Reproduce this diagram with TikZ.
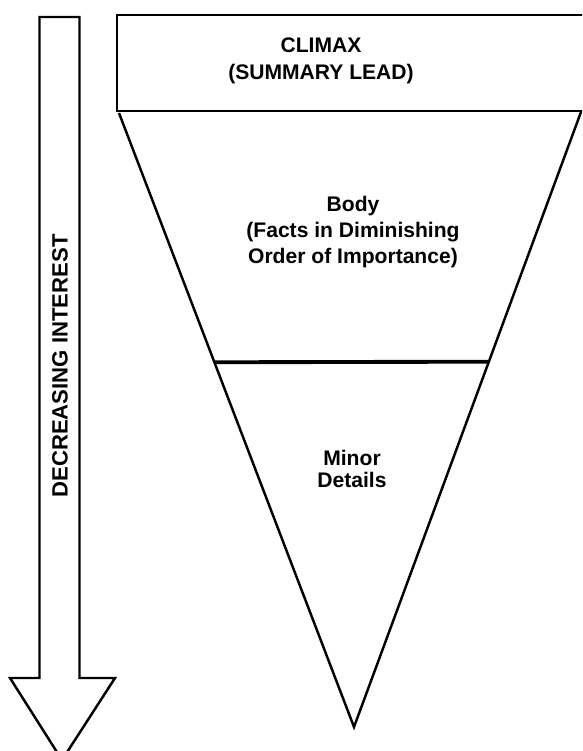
\documentclass[tikz,border=0pt]{standalone}
\usepackage{fontspec}
\setmainfont{Liberation Sans}
\usetikzlibrary{calc}
\tikzset{
  pyramid text/.style={font=\bfseries\fontsize{12}{15}\selectfont, align=center},
}
\begin{document}
\begin{tikzpicture}[line width=1.4pt]
            \clip (0,0) rectangle (11.64,15.02);
            \coordinate (tl) at (2.38,12.76);
            \coordinate (tr) at (11.62,12.78);
            \coordinate (tip) at (7.08,0.48);
            \draw (2.34,12.8) rectangle (11.8,14.72);
            \draw (tl) -- (tip) -- (tr);
            \draw[line width=2.2pt] ($(tl)!0.406!(tip)$) -- ($(tr)!0.406!(tip)$);
            \draw (0.79,14.68) -- (1.59,14.68) -- (1.59,1.46) -- (2.3,1.46) -- (1.24,-0.18) -- (0.2,1.46) -- (0.79,1.46) -- cycle;
            \node[pyramid text] (climax) at (6.42,13.8) {CLIMAX\\(SUMMARY LEAD)};
            \node[pyramid text, font=\bfseries\fontsize{12}{14.8}\selectfont] (body) at (7.06,10.38) {Body\\(Facts in Diminishing\\Order of Importance)};
            \node[pyramid text, font=\bfseries\fontsize{12}{13}\selectfont] (minor) at (7.04,5.64) {Minor\\Details};
            \node[pyramid text, font=\bfseries\fontsize{12.6}{15}\selectfont, rotate=90] (interest) at (1.2,7.7) {DECREASING INTEREST};
        \end{tikzpicture}
\end{document}
